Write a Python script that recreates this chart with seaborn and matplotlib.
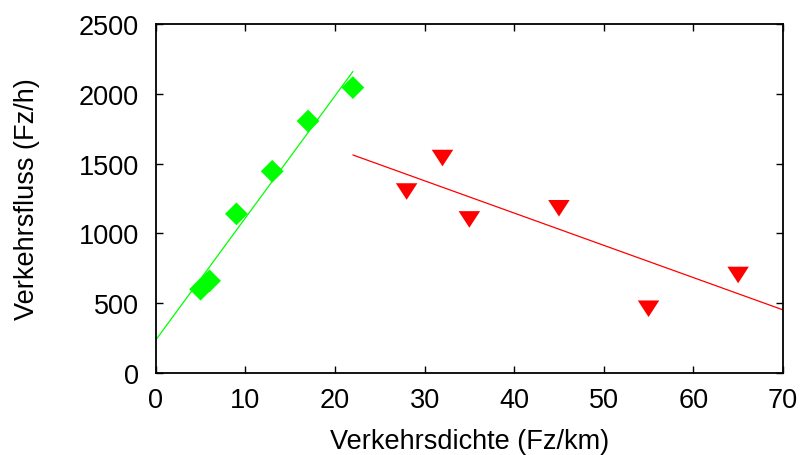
import pandas as pd
import seaborn as sns
import matplotlib.pyplot as plt

# Messwerte: freier Verkehr (grün) und gestauter Verkehr (rot)
dichte_frei = [5, 6, 9, 13, 17, 22]
fluss_frei = [600, 660, 1140, 1445, 1805, 2045]
dichte_stau = [28, 32, 35, 45, 55, 65]
fluss_stau = [1300, 1540, 1100, 1180, 460, 702]

fit_frei_x = [0, 22]
fit_frei_y = [236, 2160]
fit_stau_x = [22, 70]
fit_stau_y = [1562, 452]

xticks = [0, 10, 20, 30, 40, 50, 60, 70]
yticks = [0, 500, 1000, 1500, 2000, 2500]

sns.set_style('ticks')
plt.rcParams['font.family'] = ['Liberation Sans', 'DejaVu Sans']
plt.rcParams['xtick.direction'] = 'in'
plt.rcParams['ytick.direction'] = 'in'
plt.rcParams['text.color'] = 'black'
plt.rcParams['axes.labelcolor'] = 'black'
plt.rcParams['xtick.color'] = 'black'
plt.rcParams['ytick.color'] = 'black'

df_frei = pd.DataFrame({'x': dichte_frei, 'y': fluss_frei})
df_stau = pd.DataFrame({'x': dichte_stau, 'y': fluss_stau})

fig = plt.figure(figsize=(8.03, 4.56), dpi=100)
ax = fig.add_axes([0.194, 0.180, 0.781, 0.765])

sns.lineplot(x=fit_frei_x, y=fit_frei_y, color='#00ff00', linewidth=0.9, ax=ax)
sns.lineplot(x=fit_stau_x, y=fit_stau_y, color='#ff0000', linewidth=0.9, ax=ax)

sns.scatterplot(data=df_frei, x='x', y='y', marker='D', s=135, color='#00ff00',
                edgecolor='none', ax=ax, zorder=3)
tri = [(-1, 0.77), (1, 0.77), (0, -0.77)]
sns.scatterplot(data=df_stau, x='x', y='y', marker=tri, s=240, color='#ff0000',
                edgecolor='none', ax=ax, zorder=3)

ax.set_xlim(0, 70)
ax.set_ylim(0, 2500)
ax.set_xticks(xticks)
ax.set_yticks(yticks)
ax.tick_params(axis='both', which='both', labelsize=19.5, length=5, width=1,
               top=True, right=True)
ax.tick_params(axis='y', pad=12)
ax.tick_params(axis='x', pad=10)
for s in ax.spines.values():
    s.set_linewidth(1.3)
    s.set_color('black')

ax.set_xlabel('Verkehrsdichte (Fz/km)', fontsize=19.5, labelpad=11)
ax.set_ylabel('Verkehrsfluss (Fz/h)', fontsize=19.5, labelpad=28)
ax.grid(False)

fig.savefig('out.png', dpi=100)
plt.close(fig)
